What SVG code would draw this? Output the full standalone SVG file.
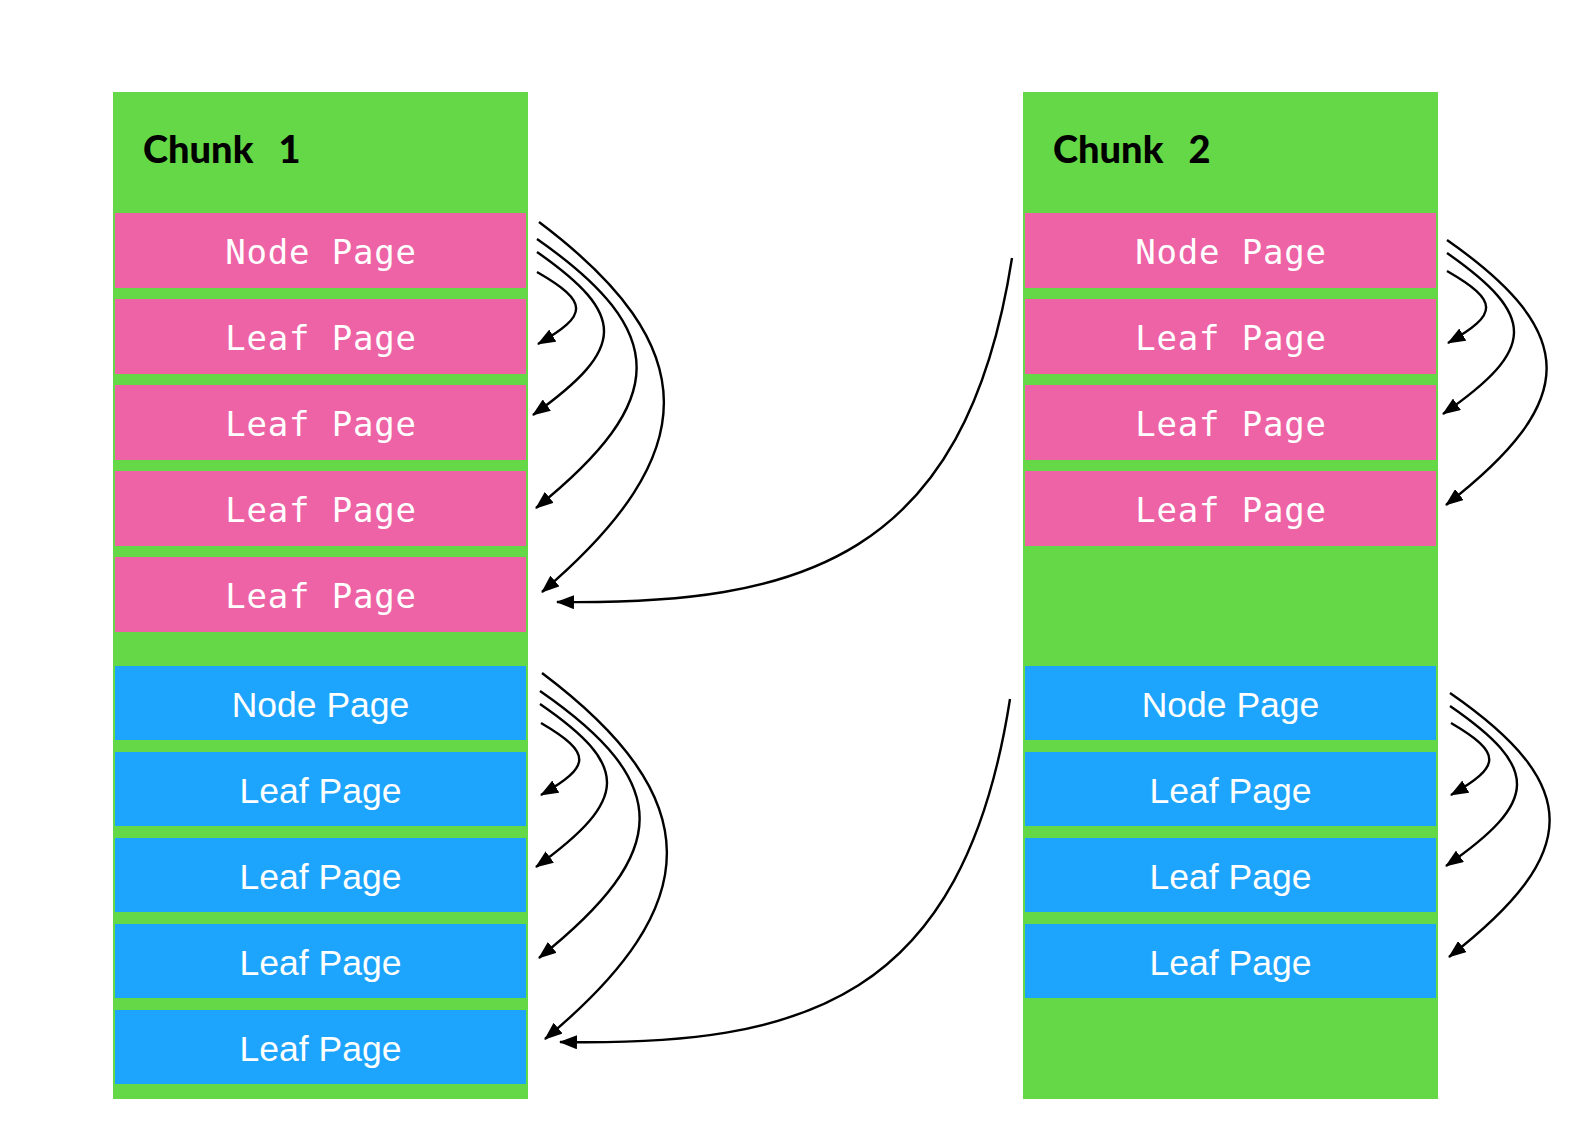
<svg xmlns="http://www.w3.org/2000/svg" width="1588" height="1136" viewBox="0 0 1588 1136">
<style>
.chunk{fill:#64D846}
.pink{fill:#ED63A6}
.blue{fill:#1DA5FE}
.hdr{font-family:Lato,"Open Sans","DejaVu Sans",sans-serif;font-weight:900;font-size:38px;fill:#000;word-spacing:16px}
.mono{font-family:"DejaVu Sans Mono","Liberation Mono",monospace;font-size:34px;letter-spacing:0.8px;fill:#fff;text-anchor:middle}
.sans{font-family:"Liberation Sans",Arial,sans-serif;font-size:35.5px;fill:#fff;text-anchor:middle}
.conn path{fill:none;stroke:#000;stroke-width:2.4;marker-end:url(#ah)}
</style>
<defs>
<marker id="ah" viewBox="0 0 18 14" refX="17" refY="7" markerWidth="18" markerHeight="14" markerUnits="userSpaceOnUse" orient="auto">
<path d="M0,0 L18,7 L0,14 z" fill="#000"/>
</marker>
</defs>
<rect width="1588" height="1136" fill="#fff"/>

<g id="chunk1">
<rect class="chunk" x="113" y="92" width="415" height="1007"/>
<text class="hdr" x="143" y="163">Chunk 1</text>
</g>
<g id="chunk2">
<rect class="chunk" x="1023" y="92" width="415" height="1007"/>
<text class="hdr" x="1053" y="163">Chunk 2</text>
</g>

<g id="c1-pink-node"><rect class="pink" x="115" y="213" width="411" height="75"/><text class="mono" x="321" y="264">Node Page</text></g>
<g id="c1-pink-leaf1"><rect class="pink" x="115" y="299" width="411" height="75"/><text class="mono" x="321" y="350">Leaf Page</text></g>
<g id="c1-pink-leaf2"><rect class="pink" x="115" y="385" width="411" height="75"/><text class="mono" x="321" y="436">Leaf Page</text></g>
<g id="c1-pink-leaf3"><rect class="pink" x="115" y="471" width="411" height="75"/><text class="mono" x="321" y="522">Leaf Page</text></g>
<g id="c1-pink-leaf4"><rect class="pink" x="115" y="557" width="411" height="75"/><text class="mono" x="321" y="608">Leaf Page</text></g>

<g id="c1-blue-node"><rect class="blue" x="115" y="666" width="411" height="74"/><text class="sans" x="320.5" y="717">Node Page</text></g>
<g id="c1-blue-leaf1"><rect class="blue" x="115" y="752" width="411" height="74"/><text class="sans" x="320.5" y="803">Leaf Page</text></g>
<g id="c1-blue-leaf2"><rect class="blue" x="115" y="838" width="411" height="74"/><text class="sans" x="320.5" y="889">Leaf Page</text></g>
<g id="c1-blue-leaf3"><rect class="blue" x="115" y="924" width="411" height="74"/><text class="sans" x="320.5" y="975">Leaf Page</text></g>
<g id="c1-blue-leaf4"><rect class="blue" x="115" y="1010" width="411" height="74"/><text class="sans" x="320.5" y="1061">Leaf Page</text></g>

<g id="c2-pink-node"><rect class="pink" x="1025" y="213" width="411" height="75"/><text class="mono" x="1231" y="264">Node Page</text></g>
<g id="c2-pink-leaf1"><rect class="pink" x="1025" y="299" width="411" height="75"/><text class="mono" x="1231" y="350">Leaf Page</text></g>
<g id="c2-pink-leaf2"><rect class="pink" x="1025" y="385" width="411" height="75"/><text class="mono" x="1231" y="436">Leaf Page</text></g>
<g id="c2-pink-leaf3"><rect class="pink" x="1025" y="471" width="411" height="75"/><text class="mono" x="1231" y="522">Leaf Page</text></g>

<g id="c2-blue-node"><rect class="blue" x="1025" y="666" width="411" height="74"/><text class="sans" x="1230.5" y="717">Node Page</text></g>
<g id="c2-blue-leaf1"><rect class="blue" x="1025" y="752" width="411" height="74"/><text class="sans" x="1230.5" y="803">Leaf Page</text></g>
<g id="c2-blue-leaf2"><rect class="blue" x="1025" y="838" width="411" height="74"/><text class="sans" x="1230.5" y="889">Leaf Page</text></g>
<g id="c2-blue-leaf3"><rect class="blue" x="1025" y="924" width="411" height="74"/><text class="sans" x="1230.5" y="975">Leaf Page</text></g>

<g id="connectors" class="conn">
<path d="M539,222 C705,347 705,453 542,592"/>
<path d="M537,239 C670,332 670,400 536,508"/>
<path d="M537,252 C627,315 627,348 533,415"/>
<path d="M537,272 C589,302 589,315 538,344"/>
<path d="M542,673 C708,798 708,904 545,1039"/>
<path d="M540,691 C673,783 673,851 539,958"/>
<path d="M540,704 C630,766 630,799 536,867"/>
<path d="M541,723 C592,753 592,766 541,795"/>
<path d="M1447,240 C1580,333 1580,401 1446,505"/>
<path d="M1447,253 C1537,316 1537,349 1443,414"/>
<path d="M1447,271 C1499,301 1499,314 1448,343"/>
<path d="M1450,693 C1583,785 1583,853 1449,957"/>
<path d="M1450,706 C1540,768 1540,801 1446,866"/>
<path d="M1451,723 C1502,753 1502,766 1451,795"/>
<path d="M1012,258 C965,560 800,605 557,602"/>
<path d="M1010,699 C963,1001 803,1046 560,1042"/>
</g>
</svg>
